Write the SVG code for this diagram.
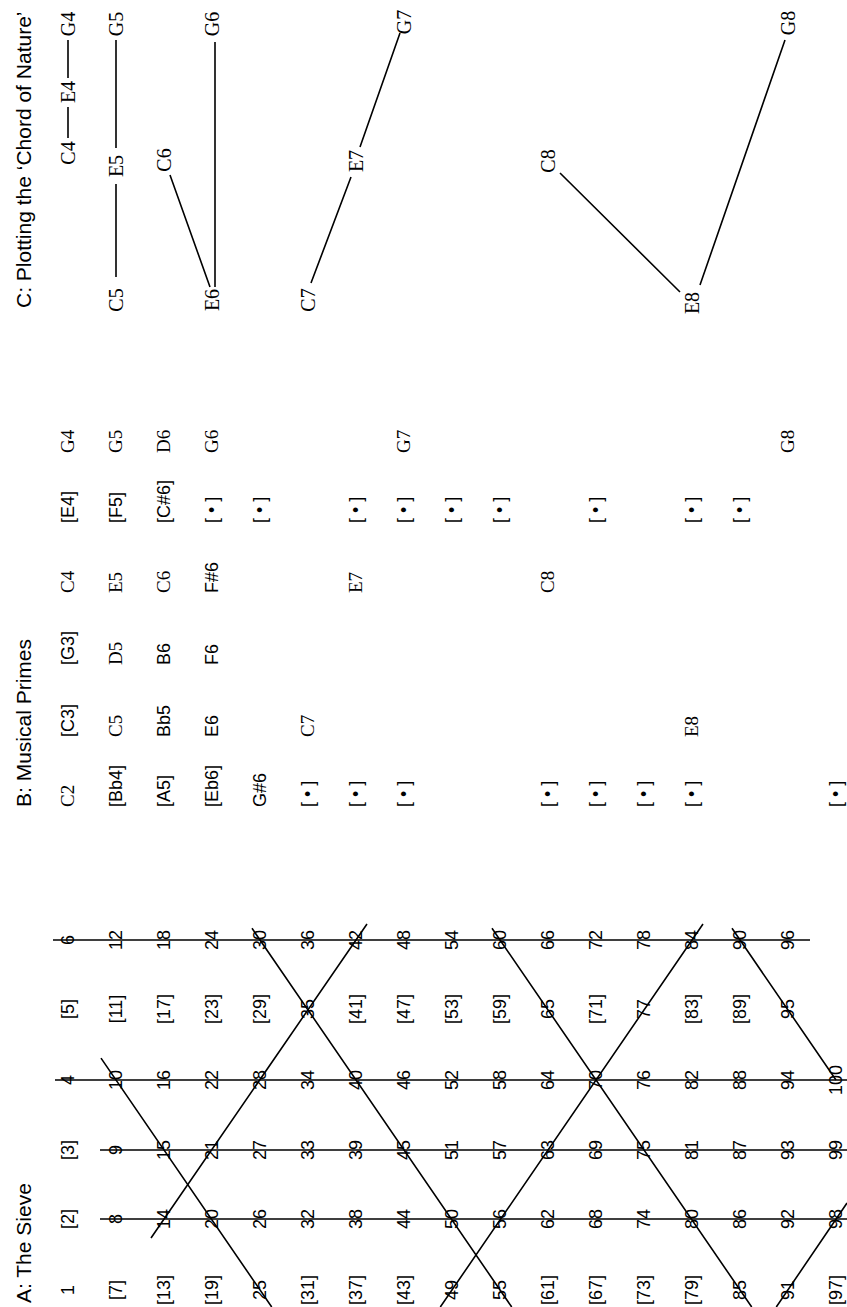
<svg xmlns="http://www.w3.org/2000/svg" width="847" height="1307" viewBox="0 0 847 1307">
<style>
.t{font-family:"Liberation Sans",Arial,sans-serif;font-size:21px;fill:#000}
.n{font-family:"Liberation Sans",Arial,sans-serif;font-size:18px;text-anchor:middle;fill:#000}
.b{font-family:"Liberation Sans",Arial,sans-serif;font-size:18px;fill:#000}
.p{font-family:"Liberation Serif","Times New Roman",serif;font-size:19px;fill:#000}
.c{font-family:"Liberation Serif","Times New Roman",serif;font-size:20px;text-anchor:middle;fill:#000}
.ln{stroke:#000;stroke-width:1.6;fill:none}
</style>
<rect width="847" height="1307" fill="#fff"/>
<g transform="matrix(0,-1,1,0,0,1307)">
  <g id="titles">
    <text class="t" x="4" y="31">A:  The Sieve</text>
    <text class="t" x="500" y="31">B:  Musical Primes</text>
    <text class="t" x="999" y="31">C:  Plotting the ‘Chord of Nature’</text>
  </g>
  <g id="sieve-lines">
    <path class="ln" d="M88,100V847M157,100V847M227,55V847M367,53V810"/>
    <path class="ln" d="M248.9,101L0,271.7M378.7,252L0,511.7M378.7,492L0,751.7M378.7,732L227,836"/>
    <path class="ln" d="M69,151L383,367M0,440.3L383,703M0,776.3L104,847"/>
  </g>
  <g id="sieve">
    <g transform="translate(0,74)"><text class="n" x="17">1</text><text class="n" x="88">[2]</text><text class="n" x="157">[3]</text><text class="n" x="227">4</text><text class="n" x="298">[5]</text><text class="n" x="367">6</text></g>
    <g transform="translate(0,122)"><text class="n" x="17">[7]</text><text class="n" x="88">8</text><text class="n" x="157">9</text><text class="n" x="227">10</text><text class="n" x="298">[11]</text><text class="n" x="367">12</text></g>
    <g transform="translate(0,170)"><text class="n" x="17">[13]</text><text class="n" x="88">14</text><text class="n" x="157">15</text><text class="n" x="227">16</text><text class="n" x="298">[17]</text><text class="n" x="367">18</text></g>
    <g transform="translate(0,218)"><text class="n" x="17">[19]</text><text class="n" x="88">20</text><text class="n" x="157">21</text><text class="n" x="227">22</text><text class="n" x="298">[23]</text><text class="n" x="367">24</text></g>
    <g transform="translate(0,266)"><text class="n" x="17">25</text><text class="n" x="88">26</text><text class="n" x="157">27</text><text class="n" x="227">28</text><text class="n" x="298">[29]</text><text class="n" x="367">30</text></g>
    <g transform="translate(0,314)"><text class="n" x="17">[31]</text><text class="n" x="88">32</text><text class="n" x="157">33</text><text class="n" x="227">34</text><text class="n" x="298">35</text><text class="n" x="367">36</text></g>
    <g transform="translate(0,362)"><text class="n" x="17">[37]</text><text class="n" x="88">38</text><text class="n" x="157">39</text><text class="n" x="227">40</text><text class="n" x="298">[41]</text><text class="n" x="367">42</text></g>
    <g transform="translate(0,410)"><text class="n" x="17">[43]</text><text class="n" x="88">44</text><text class="n" x="157">45</text><text class="n" x="227">46</text><text class="n" x="298">[47]</text><text class="n" x="367">48</text></g>
    <g transform="translate(0,458)"><text class="n" x="17">49</text><text class="n" x="88">50</text><text class="n" x="157">51</text><text class="n" x="227">52</text><text class="n" x="298">[53]</text><text class="n" x="367">54</text></g>
    <g transform="translate(0,506)"><text class="n" x="17">55</text><text class="n" x="88">56</text><text class="n" x="157">57</text><text class="n" x="227">58</text><text class="n" x="298">[59]</text><text class="n" x="367">60</text></g>
    <g transform="translate(0,554)"><text class="n" x="17">[61]</text><text class="n" x="88">62</text><text class="n" x="157">63</text><text class="n" x="227">64</text><text class="n" x="298">65</text><text class="n" x="367">66</text></g>
    <g transform="translate(0,602)"><text class="n" x="17">[67]</text><text class="n" x="88">68</text><text class="n" x="157">69</text><text class="n" x="227">70</text><text class="n" x="298">[71]</text><text class="n" x="367">72</text></g>
    <g transform="translate(0,650)"><text class="n" x="17">[73]</text><text class="n" x="88">74</text><text class="n" x="157">75</text><text class="n" x="227">76</text><text class="n" x="298">77</text><text class="n" x="367">78</text></g>
    <g transform="translate(0,698)"><text class="n" x="17">[79]</text><text class="n" x="88">80</text><text class="n" x="157">81</text><text class="n" x="227">82</text><text class="n" x="298">[83]</text><text class="n" x="367">84</text></g>
    <g transform="translate(0,746)"><text class="n" x="17">85</text><text class="n" x="88">86</text><text class="n" x="157">87</text><text class="n" x="227">88</text><text class="n" x="298">[89]</text><text class="n" x="367">90</text></g>
    <g transform="translate(0,794)"><text class="n" x="17">91</text><text class="n" x="88">92</text><text class="n" x="157">93</text><text class="n" x="227">94</text><text class="n" x="298">95</text><text class="n" x="367">96</text></g>
    <g transform="translate(0,842)"><text class="n" x="17">[97]</text><text class="n" x="88">98</text><text class="n" x="157">99</text><text class="n" x="227">100</text></g>
  </g>
  <g id="primes">
    <g transform="translate(0,74)"><text class="p" x="500">C2</text><text class="b" x="570">[C3]</text><text class="b" x="642">[G3]</text><text class="p" x="714">C4</text><text class="b" x="784">[E4]</text><text class="p" x="854">G4</text></g>
    <g transform="translate(0,122)"><text class="b" x="500">[Bb4]</text><text class="p" x="570">C5</text><text class="p" x="642">D5</text><text class="p" x="714">E5</text><text class="b" x="784">[F5]</text><text class="p" x="854">G5</text></g>
    <g transform="translate(0,170)"><text class="b" x="500">[A5]</text><text class="b" x="570">Bb5</text><text class="b" x="642">B6</text><text class="p" x="714">C6</text><text class="b" x="784">[C#6]</text><text class="p" x="854">D6</text></g>
    <g transform="translate(0,218)"><text class="b" x="500">[Eb6]</text><text class="b" x="570">E6</text><text class="b" x="642">F6</text><text class="b" x="714">F#6</text><text class="b" x="784">[ • ]</text><text class="p" x="854">G6</text></g>
    <g transform="translate(0,266)"><text class="b" x="500">G#6</text><text class="b" x="784">[ • ]</text></g>
    <g transform="translate(0,314)"><text class="b" x="500">[ • ]</text><text class="p" x="570">C7</text></g>
    <g transform="translate(0,362)"><text class="b" x="500">[ • ]</text><text class="p" x="714">E7</text><text class="b" x="784">[ • ]</text></g>
    <g transform="translate(0,410)"><text class="b" x="500">[ • ]</text><text class="b" x="784">[ • ]</text><text class="p" x="854">G7</text></g>
    <g transform="translate(0,458)"><text class="b" x="784">[ • ]</text></g>
    <g transform="translate(0,506)"><text class="b" x="784">[ • ]</text></g>
    <g transform="translate(0,554)"><text class="b" x="500">[ • ]</text><text class="p" x="714">C8</text></g>
    <g transform="translate(0,602)"><text class="b" x="500">[ • ]</text><text class="b" x="784">[ • ]</text></g>
    <g transform="translate(0,650)"><text class="b" x="500">[ • ]</text></g>
    <g transform="translate(0,698)"><text class="b" x="500">[ • ]</text><text class="p" x="570">E8</text><text class="b" x="784">[ • ]</text></g>
    <g transform="translate(0,746)"><text class="b" x="784">[ • ]</text></g>
    <g transform="translate(0,794)"><text class="p" x="854">G8</text></g>
    <g transform="translate(0,842)"><text class="b" x="500">[ • ]</text></g>
  </g>
  <g id="chord-connectors">
    <path class="ln" d="M1169,68H1200M1229,68H1267"/>
    <path class="ln" d="M1030,116H1123M1159,116H1267"/>
    <path class="ln" d="M1132,170L1020,210M1020,215H1265"/>
    <path class="ln" d="M1024,311L1130,351M1160,360L1274,400"/>
    <path class="ln" d="M1134,560L1015,680M1022,700L1267,785"/>
  </g>
  <g id="chord">
    <g id="n-C4"><text class="c" x="1154" y="75">C4</text></g>
    <g id="n-E4"><text class="c" x="1215" y="75">E4</text></g>
    <g id="n-G4"><text class="c" x="1283" y="75">G4</text></g>
    <g id="n-C5"><text class="c" x="1007" y="123">C5</text></g>
    <g id="n-E5"><text class="c" x="1141" y="123">E5</text></g>
    <g id="n-G5"><text class="c" x="1283" y="123">G5</text></g>
    <g id="n-C6"><text class="c" x="1147" y="171">C6</text></g>
    <g id="n-E6"><text class="c" x="1007" y="219">E6</text></g>
    <g id="n-G6"><text class="c" x="1283" y="219">G6</text></g>
    <g id="n-C7"><text class="c" x="1007" y="315">C7</text></g>
    <g id="n-E7"><text class="c" x="1146" y="363">E7</text></g>
    <g id="n-G7"><text class="c" x="1285" y="411">G7</text></g>
    <g id="n-C8"><text class="c" x="1146" y="555">C8</text></g>
    <g id="n-E8"><text class="c" x="1004" y="699">E8</text></g>
    <g id="n-G8"><text class="c" x="1284" y="795">G8</text></g>
  </g>
</g>
</svg>
